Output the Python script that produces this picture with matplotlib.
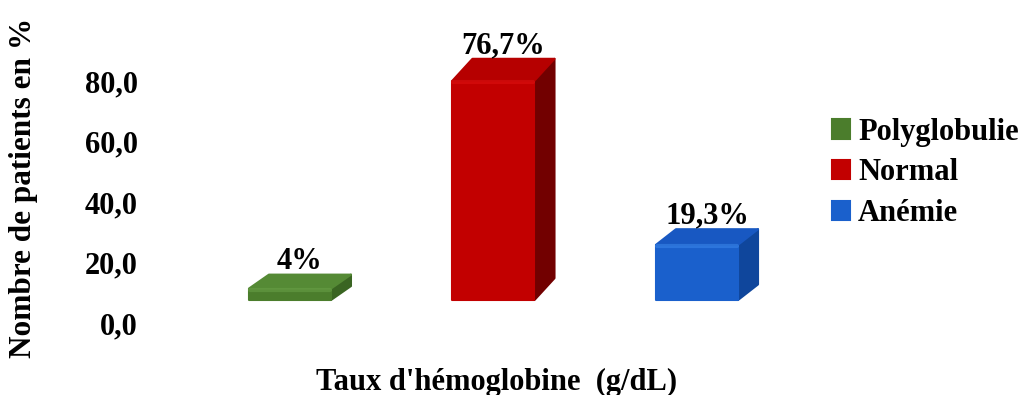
import matplotlib
matplotlib.use("Agg")
import matplotlib.pyplot as plt
from matplotlib.patches import Polygon
import numpy as np

# Data
categories = ["Polyglobulie", "Normal", "Anémie"]
values = [4.0, 76.7, 19.3]
value_labels = ["4%", "76,7%", "19,3%"]
tick_values = [0, 20, 40, 60, 80]
tick_labels = ["0,0", "20,0", "40,0", "60,0", "80,0"]

front_colors = ["#4b7d2c", "#c20000", "#1a60cc"]
top_colors = ["#558a35", "#b60000", "#1858c2"]
side_colors = ["#3a6522", "#720000", "#0f469c"]
rim_colors = ["#6aa048", "#de1212", "#3c88ea"]

FONT = "Liberation Serif"
FS = 22
W, H, DPI = 1024, 395, 100

fig = plt.figure(figsize=(W / DPI, H / DPI), dpi=DPI)
fig.patch.set_facecolor("white")


def rect_px(left, top, right, bottom):
    return [left / W, 1 - bottom / H, (right - left) / W, (bottom - top) / H]


# Axes holding the bars (floor level y=300 px, 2.86 px per unit)
ax = fig.add_axes(rect_px(200, 20, 800, 340))
ax.set_xlim(-0.442, 2.506)
ax.set_ylim(-40 / 2.86, 280 / 2.86)
ax.axis("off")

x = np.arange(len(categories))
bars = ax.bar(x, values, width=0.403, color=front_colors, edgecolor=front_colors,
              linewidth=1.5, joinstyle="round", zorder=3)

fig.canvas.draw()
to_px = ax.transData.transform
to_data = ax.transData.inverted().transform

DX = 20.0  # depth shift to the right, px
for i, (rect, v) in enumerate(zip(bars.patches, values)):
    x0, y0 = rect.get_x(), rect.get_y()
    x1, y1 = x0 + rect.get_width(), y0 + rect.get_height()
    (px0, py0), (px1, py1) = to_px([(x0, y0), (x1, y1)])
    h = py1 - py0
    dy = 13.5 + 0.038 * h
    top = to_data([(px0, py1), (px1, py1), (px1 + DX, py1 + dy), (px0 + DX, py1 + dy)])
    side = to_data([(px1, py0), (px1, py1), (px1 + DX, py1 + dy), (px1 + DX, py0 + dy)])
    ax.add_patch(Polygon(side, closed=True, facecolor=side_colors[i],
                         edgecolor=side_colors[i], linewidth=1.5,
                         joinstyle="round", zorder=2))
    ax.add_patch(Polygon(top, closed=True, facecolor=top_colors[i],
                         edgecolor=top_colors[i], linewidth=1.5,
                         joinstyle="round", zorder=4))
    # bevel highlight along the front top edge
    rim = to_data([(px0 + 1, py1 - 1), (px1 - 1, py1 - 1)])
    ax.plot(rim[:, 0], rim[:, 1], color=rim_colors[i], lw=3, alpha=0.55,
            solid_capstyle="round", zorder=5)
    # value label above the bar
    lx, ly = to_data([((px0 + px1) / 2 + DX / 2, py1 + dy)])[0]
    ax.annotate(value_labels[i], (lx, ly), xytext=(0, 9.5), textcoords="offset points",
                ha="center", va="center", fontsize=FS, fontweight="bold",
                family=FONT, zorder=6)

# Value axis drawn on the back wall (0 at y=323 px, 3.025 px per unit)
ax2 = fig.add_axes(rect_px(142, 20, 150, 340))
ax2.set_ylim(-17 / 3.025, 303 / 3.025)
ax2.set_xticks([])
ax2.set_yticks(tick_values)
ax2.set_yticklabels(tick_labels, fontsize=FS, fontweight="bold", family=FONT)
ax2.tick_params(axis="y", length=0, pad=3)
for s in ax2.spines.values():
    s.set_visible(False)
ax2.patch.set_alpha(0)

fig.text(24 / W, 1 - 188 / H, "Nombre de patients en %", rotation=90,
         ha="center", va="center", fontsize=FS + 0.5, fontweight="bold", family=FONT)
fig.text(497 / W, 1 - 382 / H, "Taux d'hémoglobine  (g/dL)",
         ha="center", va="center", fontsize=FS, fontweight="bold", family=FONT)

leg = fig.legend(bars.patches, categories, loc="center left",
                 bbox_to_anchor=(832 / W, 1 - 173 / H), frameon=False,
                 borderpad=0, borderaxespad=0, handlelength=0.6,
                 handleheight=0.6, handletextpad=0.25, labelspacing=0.38,
                 prop={"family": FONT, "weight": "bold", "size": FS})

fig.savefig("out.png", dpi=DPI, facecolor="white")
